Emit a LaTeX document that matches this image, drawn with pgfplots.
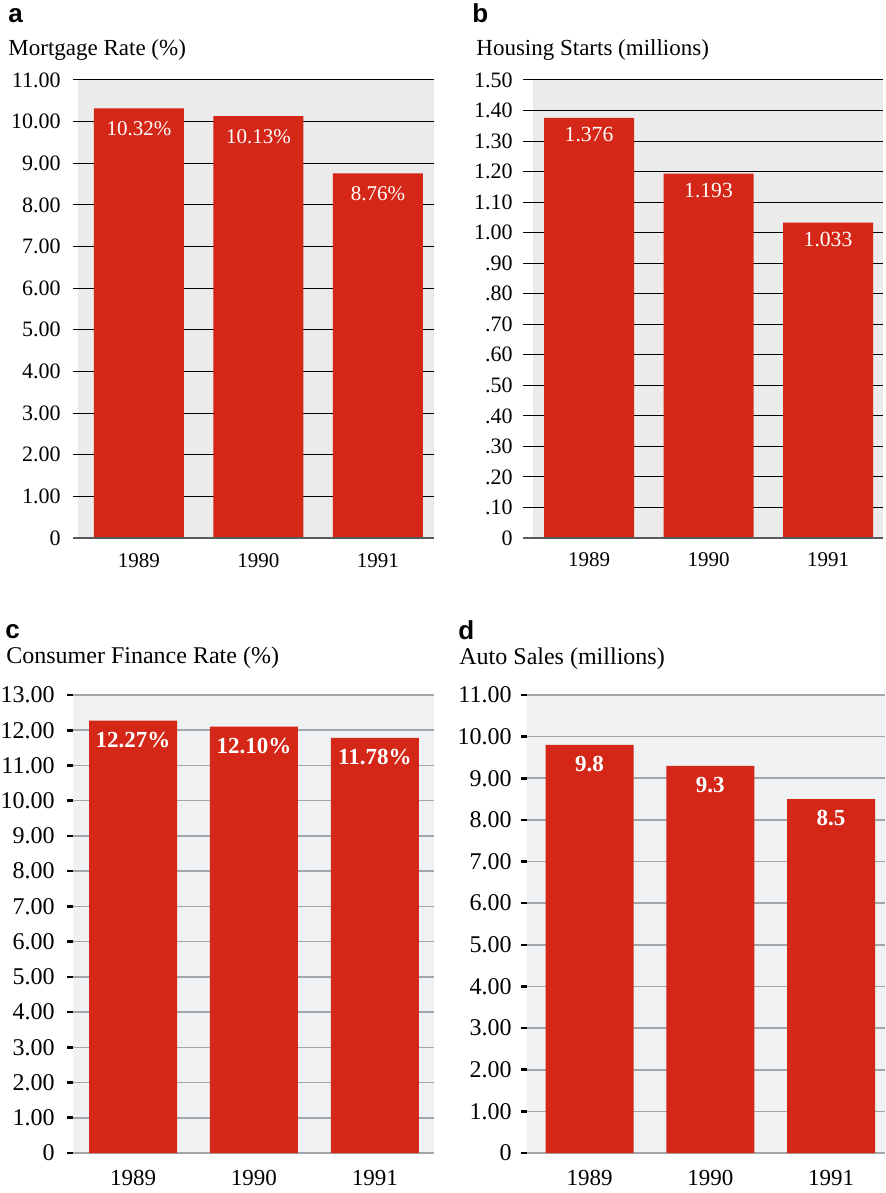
\documentclass[border=0pt]{standalone}
\usepackage{fontspec}
\setmainfont{Liberation Serif}
\newfontfamily\panelfont{Liberation Sans}
\usepackage{pgfplots}
\pgfplotsset{compat=1.18}
\definecolor{barred}{HTML}{D42718}
\definecolor{bgA}{HTML}{EBEBEB}
\definecolor{bgC}{HTML}{EFF1F2}
\definecolor{gridC}{HTML}{A3A6A8}
\definecolor{baseA}{HTML}{5A5A5A}
\pgfplotsset{
  panel/.style={
    scale only axis, height=229pt, ymin=0, clip=false,
    axis line style={draw=none},
    ymajorgrids,
    xtick={0,1,2}, xticklabels={1989,1990,1991},
    xtick style={draw=none},
    tick align=outside, ytick pos=left, xtick pos=bottom,
    /pgf/number format/assume math mode=true,
    yticklabel style={anchor=east, inner sep=0pt},
    xticklabel style={anchor=north, inner sep=0pt},
  },
  panelAB/.style={panel,
    axis background/.style={fill=bgA},
    grid style={black, line width=0.5pt},
    ytick style={black, line width=0.5pt},
    tick label style={font=\fontsize{11}{13}\selectfont},
    xticklabel style={font=\fontsize{10.5}{12}\selectfont},
  },
  panelCD/.style={panel,
    axis background/.style={fill=bgC},
    grid style={gridC, line width=0.8pt},
    ytick style={black, line width=1.3pt},
    major tick length=3pt,
    tick label style={font=\fontsize{12}{14}\selectfont},
    xticklabel style={yshift=-5.25pt, font=\fontsize{11.5}{14}\selectfont},
  },
  bars/.style={ybar, bar width=#1, fill=barred, draw=none,
    nodes near coords, point meta=explicit symbolic},
}
\begin{document}
\begin{tikzpicture}
\path[use as bounding box] (0,0) rectangle (442.5pt,596.5pt);
% ---------- panel a
\begin{axis}[panelAB, at={(39pt,327.5pt)}, anchor=south west, width=178pt,
  xmin=-0.510, xmax=2.469, ymax=11, major tick length=2.5pt,
  ytick={0,1,2,3,4,5,6,7,8,9,10,11},
  yticklabels={0,1.00,2.00,3.00,4.00,5.00,6.00,7.00,8.00,9.00,10.00,11.00},
  yticklabel style={xshift=-6pt}, xticklabel style={yshift=-5.25pt}]
\addplot[bars=45pt, every node near coord/.append style={anchor=center, yshift=-10pt, text=white, font=\fontsize{10.5}{12}\selectfont}]
  coordinates {(0,10.32) [10.32\%] (1,10.13) [10.13\%] (2,8.76) [8.76\%]};
\draw[baseA, line width=1pt] ([xshift=-2.5pt]rel axis cs:0,0) -- (rel axis cs:1,0);
\end{axis}
% ---------- panel b
\begin{axis}[panelAB, at={(266.5pt,327.5pt)}, anchor=south west, width=175pt,
  xmin=-0.469, xmax=2.46, ymax=1.5, major tick length=5pt,
  ytick={0,0.1,0.2,0.3,0.4,0.5,0.6,0.7,0.8,0.9,1.0,1.1,1.2,1.3,1.4,1.5},
  yticklabels={0,.10,.20,.30,.40,.50,.60,.70,.80,.90,1.00,1.10,1.20,1.30,1.40,1.50},
  yticklabel style={xshift=-5pt}, xticklabel style={yshift=-2.25pt}]
\addplot[bars=45pt, every node near coord/.append style={anchor=center, yshift=-8.5pt, text=white, font=\fontsize{10.8}{12}\selectfont}]
  coordinates {(0,1.376) [1.376] (1,1.193) [1.193] (2,1.033) [1.033]};
\draw[baseA, line width=1pt] ([xshift=-5pt]rel axis cs:0,0) -- (rel axis cs:1,0);
\end{axis}
% ---------- panel c
\begin{axis}[panelCD, at={(36.5pt,20pt)}, anchor=south west, width=180.5pt,
  xmin=-0.496, xmax=2.488, ymax=13,
  ytick={0,1,2,3,4,5,6,7,8,9,10,11,12,13},
  yticklabels={0,1.00,2.00,3.00,4.00,5.00,6.00,7.00,8.00,9.00,10.00,11.00,12.00,13.00},
  yticklabel style={xshift=-6pt}]
\addplot[bars=44pt, every node near coord/.append style={anchor=center, yshift=-9.5pt, text=white, font=\bfseries\fontsize{11.5}{13}\selectfont}]
  coordinates {(0,12.27) [12.27\%] (1,12.10) [12.10\%] (2,11.78) [11.78\%]};
\end{axis}
% ---------- panel d
\begin{axis}[panelCD, at={(263.5pt,20pt)}, anchor=south west, width=179pt,
  xmin=-0.518, xmax=2.447, ymax=11,
  ytick={0,1,2,3,4,5,6,7,8,9,10,11},
  yticklabels={0,1.00,2.00,3.00,4.00,5.00,6.00,7.00,8.00,9.00,10.00,11.00},
  yticklabel style={xshift=-4.5pt}]
\addplot[bars=44pt, every node near coord/.append style={anchor=center, yshift=-9.5pt, text=white, font=\bfseries\fontsize{11.5}{13}\selectfont}]
  coordinates {(0,9.8) [9.8] (1,9.3) [9.3] (2,8.5) [8.5]};
\end{axis}
% ---------- titles
\node[anchor=base west, inner sep=0pt, font=\panelfont\bfseries\fontsize{13}{15}\selectfont] at (4pt,585pt) {a};
\node[anchor=base west, inner sep=0pt, font=\fontsize{11.5}{13}\selectfont] at (4pt,568.5pt) {Mortgage Rate (\%)};
\node[anchor=base west, inner sep=0pt, font=\panelfont\bfseries\fontsize{13}{15}\selectfont] at (236pt,585pt) {b};
\node[anchor=base west, inner sep=0pt, font=\fontsize{11.5}{13}\selectfont] at (238pt,568.5pt) {Housing Starts (millions)};
\node[anchor=base west, inner sep=0pt, font=\panelfont\bfseries\fontsize{13}{15}\selectfont] at (2.5pt,277pt) {c};
\node[anchor=base west, inner sep=0pt, font=\fontsize{12}{14}\selectfont] at (3pt,264.5pt) {Consumer Finance Rate (\%)};
\node[anchor=base west, inner sep=0pt, font=\panelfont\bfseries\fontsize{13}{15}\selectfont] at (229pt,276.5pt) {d};
\node[anchor=base west, inner sep=0pt, font=\fontsize{12}{14}\selectfont] at (229.5pt,264pt) {Auto Sales (millions)};
\end{tikzpicture}
\end{document}
